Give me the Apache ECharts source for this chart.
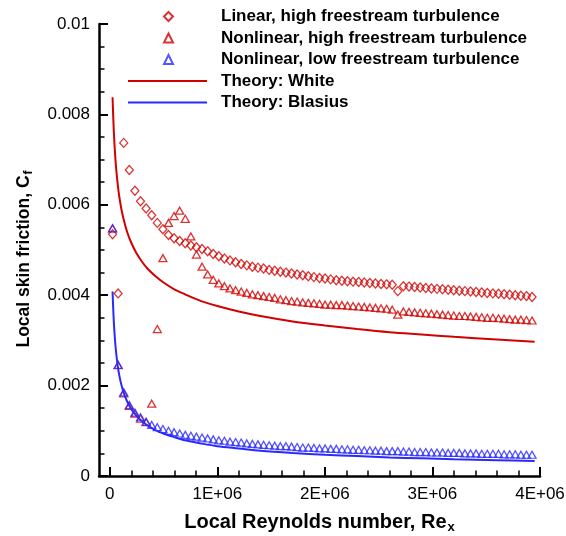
<!DOCTYPE html>
<html><head><meta charset="utf-8">
<script src="https://cdn.jsdelivr.net/npm/echarts@6/dist/echarts.min.js"></script>
<style>html,body{margin:0;padding:0;background:#fff}#c{width:566px;height:536px}</style>
</head><body><div id="c"></div>
<script>
// Local Reynolds number of the simulation points, in thousands
const reX_k = [26,78,130,182,234,286,338,390,442,494,546,598,650,702,754,806,858,910,962,1014,1066,1118,1170,1222,1274,1326,1378,1430,1482,1534,1586,1638,1690,1742,1794,1846,1898,1950,2002,2054,2106,2158,2210,2262,2314,2366,2418,2470,2522,2574,2626,2678,2730,2782,2834,2886,2938,2990,3042,3094,3146,3198,3250,3302,3354,3406,3458,3510,3562,3614,3666,3718,3770,3822,3874,3926];
const linearHigh = [0.00535,0.00404,0.00737,0.00677,0.00631,0.00608,0.00592,0.00577,0.00560,0.00546,0.00533,0.00526,0.00520,0.00515,0.00510,0.00506,0.00502,0.00497,0.00491,0.00486,0.00481,0.00477,0.00473,0.00469,0.00466,0.00463,0.00461,0.00459,0.00456,0.00454,0.00452,0.00450,0.00448,0.00446,0.00444,0.00442,0.00440,0.00438,0.00437,0.00435,0.00433,0.00432,0.00431,0.00430,0.00429,0.00428,0.00427,0.00426,0.00425,0.00424,0.00423,0.00409,0.00420,0.00419,0.00418,0.00417,0.00416,0.00415,0.00414,0.00413,0.00412,0.00411,0.00410,0.00409,0.00408,0.00407,0.00406,0.00405,0.00404,0.00403,0.00402,0.00401,0.00400,0.00399,0.00398,0.00396];
const nonlinHigh = [0.00548,0.00245,0.00183,0.00155,0.00138,0.00127,0.00119,0.00160,0.00325,0.00482,0.00560,0.00575,0.00587,0.00569,0.00530,0.00490,0.00463,0.00446,0.00434,0.00426,0.00420,0.00415,0.00411,0.00408,0.00405,0.00402,0.00400,0.00398,0.00396,0.00394,0.00391,0.00389,0.00387,0.00386,0.00384,0.00383,0.00382,0.00381,0.00379,0.00379,0.00378,0.00378,0.00377,0.00376,0.00375,0.00374,0.00373,0.00372,0.00371,0.00370,0.00368,0.00357,0.00364,0.00363,0.00362,0.00361,0.00360,0.00359,0.00358,0.00357,0.00356,0.00355,0.00354,0.00354,0.00353,0.00352,0.00351,0.00350,0.00350,0.00349,0.00348,0.00347,0.00346,0.00346,0.00345,0.00344];
const nonlinLow = [0.00548,0.00246,0.00185,0.00157,0.00140,0.00130,0.00120,0.00113,0.00108,0.00104,0.00100,0.00097,0.00094,0.00091,0.00089,0.00087,0.00085,0.00083,0.00081,0.00079,0.00078,0.00076,0.00075,0.00074,0.00072,0.00071,0.00070,0.00069,0.00068,0.00067,0.00066,0.00066,0.00065,0.00064,0.00063,0.00063,0.00062,0.00061,0.00061,0.00060,0.00060,0.00059,0.00059,0.00058,0.00058,0.00057,0.00057,0.00056,0.00056,0.00055,0.00055,0.00055,0.00054,0.00054,0.00053,0.00053,0.00053,0.00052,0.00052,0.00052,0.00051,0.00051,0.00051,0.00050,0.00050,0.00050,0.00049,0.00049,0.00049,0.00049,0.00048,0.00048,0.00048,0.00047,0.00047,0.00047];
// Theory curves (Re in thousands)
const theoryRe_k = [26,30,35,40,50,60,75,90,110,130,160,200,250,300,350,420,500,600,700,850,1000,1200,1400,1700,2000,2300,2600,2900,3200,3600,3950];
const whiteCf = [0.00838,0.00810,0.00778,0.00751,0.00710,0.00679,0.00643,0.00616,0.00588,0.00567,0.00541,0.00516,0.00492,0.00474,0.00459,0.00443,0.00428,0.00413,0.00402,0.00387,0.00376,0.00364,0.00354,0.00342,0.00333,0.00325,0.00318,0.00313,0.00308,0.00302,0.00297];
const blasiusCf = [0.00408,0.00383,0.00355,0.00332,0.00297,0.00271,0.00242,0.00221,0.00200,0.00184,0.00166,0.00148,0.00133,0.00121,0.00112,0.00102,0.00094,0.00086,0.00079,0.00072,0.00066,0.00061,0.00056,0.00051,0.00047,0.00044,0.00041,0.00039,0.00037,0.00035,0.00033];
const xMajor = [0,1000000,2000000,3000000,4000000];
const xMinor = [200000,400000,600000,800000,1200000,1400000,1600000,1800000,2200000,2400000,2600000,2800000,3200000,3400000,3600000,3800000];
const names = ['Linear, high freestream turbulence','Nonlinear, high freestream turbulence','Nonlinear, low freestream turbulence','Theory: White','Theory: Blasius'];

const RED = '#d20000', BLUE = '#2a2aff';
const FONT = '"Liberation Sans", Arial, sans-serif';
const pair = (xs, ys) => xs.map((x, i) => [x * 1000, ys[i]]);
const legendText = (pad) => ({fontFamily: FONT, fontSize: 17, fontWeight: 'bold', color: '#000', lineHeight: 17, padding: [0, 0, 0, pad]});

const chart = echarts.init(document.getElementById('c'), null, {renderer: 'canvas'});
const sym = (color) => ({color: 'transparent', borderColor: color, borderWidth: 1.3});
chart.setOption({
  animation: false,
  backgroundColor: '#fff',
  grid: {left: 99, right: 26, top: 24, bottom: 60, containLabel: false, outerBoundsMode: 'none'},
  legend: [{
    orient: 'vertical', left: 163, top: 8, padding: 0, itemWidth: 9, itemHeight: 9, itemGap: 4.5,
    selectedMode: false, symbolKeepAspect: true,
    data: [{name: names[0], icon: 'diamond'}, {name: names[1], icon: 'triangle'}, {name: names[2], icon: 'triangle'}],
    textStyle: legendText(43)
  }, {
    orient: 'vertical', left: 127, top: 72.5, padding: 0, itemWidth: 79, itemHeight: 9, itemGap: 4.5,
    selectedMode: false,
    data: [{name: names[3], itemStyle: {opacity: 0}}, {name: names[4], itemStyle: {opacity: 0}}],
    textStyle: legendText(9)
  }],
  xAxis: [{
    type: 'value', min: -100000, max: 4000000,
    axisLine: {show: true, onZero: false, lineStyle: {color: '#000', width: 2.5}},
    axisTick: {show: true, inside: true, length: 9, customValues: xMajor, lineStyle: {color: '#000', width: 2}},
    axisLabel: {customValues: xMajor, margin: 10, color: '#000', fontFamily: FONT, fontSize: 17,
      formatter: v => v === 0 ? '0' : (v / 1e6) + 'E+06'},
    splitLine: {show: false},
    name: '{a|Local Reynolds number, Re}{b|x}', nameLocation: 'middle', nameGap: 35,
    nameTextStyle: {rich: {
      a: {fontFamily: FONT, fontSize: 20, fontWeight: 'bold', color: '#000'},
      b: {fontFamily: FONT, fontSize: 13, fontWeight: 'bold', color: '#000', padding: [10, 0, 0, 1]}
    }}
  }, {
    type: 'value', min: -100000, max: 4000000, position: 'bottom',
    axisLine: {show: false, onZero: false}, axisLabel: {show: false}, splitLine: {show: false},
    axisTick: {show: true, inside: true, length: 5.5, customValues: xMinor, lineStyle: {color: '#000', width: 1.5}}
  }],
  yAxis: {
    type: 'value', min: 0, max: 0.01, interval: 0.002,
    axisLine: {show: true, onZero: false, lineStyle: {color: '#000', width: 2.5}},
    axisTick: {show: true, inside: true, length: 9, lineStyle: {color: '#000', width: 2}},
    minorTick: {show: true, splitNumber: 4, length: 5.5, lineStyle: {color: '#000', width: 1.5}},
    axisLabel: {margin: 9, color: '#000', fontFamily: FONT, fontSize: 17},
    splitLine: {show: false}, minorSplitLine: {show: false},
    name: '{a|Local skin friction, C}{b|f}', nameLocation: 'middle', nameRotate: 90, nameGap: 64,
    nameTextStyle: {padding: [0, 18, 0, 0], rich: {
      a: {fontFamily: FONT, fontSize: 17.5, fontWeight: 'bold', color: '#000'},
      b: {fontFamily: FONT, fontSize: 12, fontWeight: 'bold', color: '#000', padding: [9, 0, 0, 1]}
    }}
  },
  series: [
    {name: names[0], type: 'scatter', xAxisIndex: 0, data: pair(reX_k, linearHigh), symbol: 'diamond', symbolSize: [8, 9], symbolKeepAspect: true, itemStyle: sym(RED)},
    {name: names[1], type: 'scatter', xAxisIndex: 0, data: pair(reX_k, nonlinHigh), symbol: 'triangle', symbolSize: [8, 7], symbolKeepAspect: true, itemStyle: sym(RED)},
    {name: names[2], type: 'scatter', xAxisIndex: 0, data: pair(reX_k, nonlinLow), symbol: 'triangle', symbolSize: [8, 7], symbolKeepAspect: true, itemStyle: sym(BLUE)},
    {name: names[3], type: 'line', xAxisIndex: 0, data: pair(theoryRe_k, whiteCf), symbol: 'none', smooth: 0.3, lineStyle: {color: RED, width: 2}, itemStyle: {color: RED}},
    {name: names[4], type: 'line', xAxisIndex: 0, data: pair(theoryRe_k, blasiusCf), symbol: 'none', smooth: 0.3, lineStyle: {color: BLUE, width: 2}, itemStyle: {color: BLUE}}
  ]
});
</script></body></html>
